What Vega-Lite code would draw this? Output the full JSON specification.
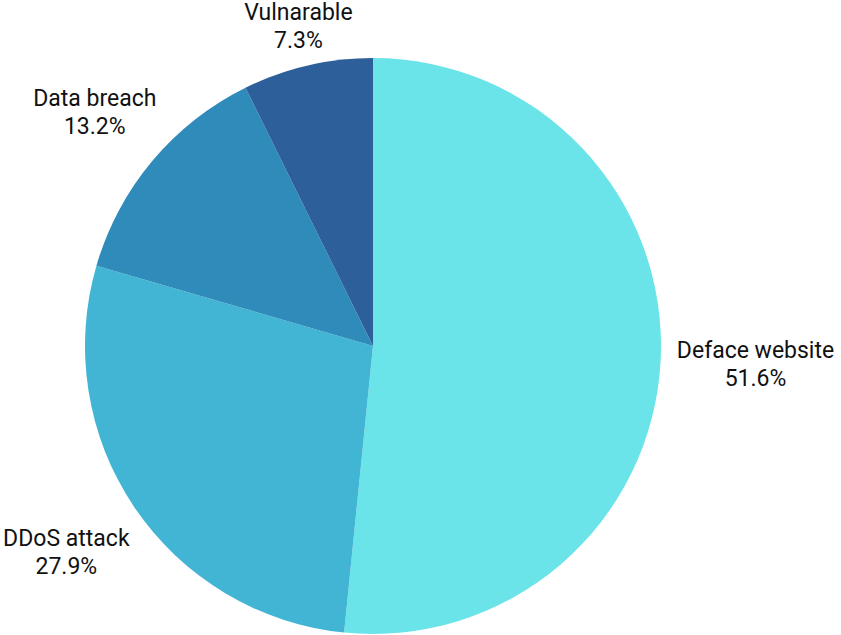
{
  "$schema": "https://vega.github.io/schema/vega-lite/v6.json",
  "width": 576,
  "height": 576,
  "autosize": {"type": "none"},
  "padding": {"left": 85, "top": 58, "right": 180, "bottom": 1},
  "background": "white",
  "view": {"stroke": null},
  "data": {
    "values": [
      {"category": "Deface website", "share": 0.516, "order": 1},
      {"category": "DDoS attack", "share": 0.279, "order": 2},
      {"category": "Data breach", "share": 0.132, "order": 3},
      {"category": "Vulnarable", "share": 0.073, "order": 4}
    ]
  },
  "encoding": {
    "theta": {"field": "share", "type": "quantitative", "stack": true},
    "order": {"field": "order", "type": "quantitative"}
  },
  "layer": [
    {
      "mark": {"type": "arc", "outerRadius": 288},
      "encoding": {
        "color": {
          "field": "category",
          "type": "nominal",
          "scale": {
            "domain": ["Deface website", "DDoS attack", "Data breach", "Vulnarable"],
            "range": ["#6AE4E8", "#42B5D5", "#2E8BBA", "#2D5F9A"]
          },
          "legend": null
        }
      }
    },
    {
      "mark": {"type": "text", "font": "Roboto", "fontSize": 23, "color": "#111111", "baseline": "middle", "align": "center", "dy": -14,
        "radius": {"expr": "datum.category === 'Deface website' ? 383 : datum.category === 'DDoS attack' ? 370 : datum.category === 'Data breach' ? 363 : 328"}},
      "encoding": {
        "text": {"field": "category", "type": "nominal"}
      }
    },
    {
      "mark": {"type": "text", "font": "Roboto", "fontSize": 23, "color": "#111111", "baseline": "middle", "align": "center", "dy": 14,
        "radius": {"expr": "datum.category === 'Deface website' ? 383 : datum.category === 'DDoS attack' ? 370 : datum.category === 'Data breach' ? 363 : 328"}},
      "encoding": {
        "text": {"field": "share", "type": "quantitative", "format": ".1%"}
      }
    }
  ]
}
